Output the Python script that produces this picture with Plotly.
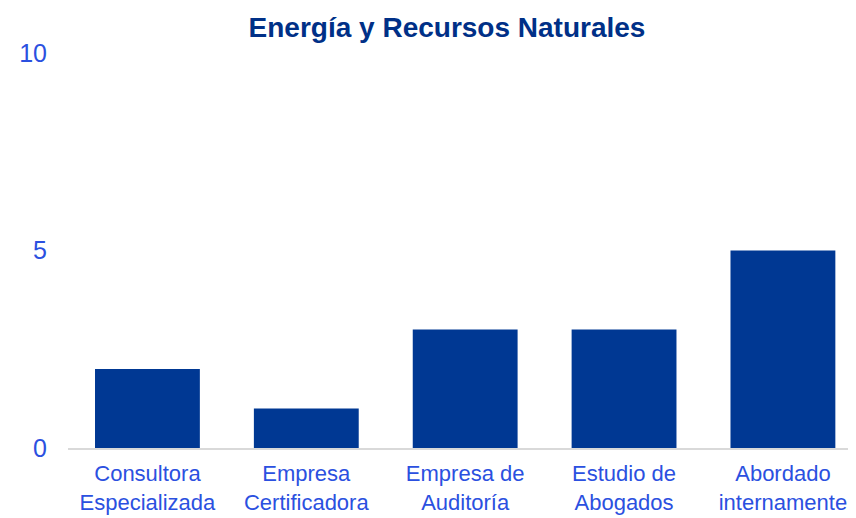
import plotly.graph_objects as go

categories = ["Consultora<br>Especializada", "Empresa<br>Certificadora", "Empresa de<br>Auditoría",
              "Estudio de<br>Abogados", "Abordado<br>internamente"]
values = [2, 1, 3, 3, 5]
y_ticks = [0, 5, 10]
title_text = "Energía y Recursos Naturales"

bar_color = "#003893"
tick_color = "#2B50E0"

fig = go.Figure(go.Bar(x=list(range(len(categories))), y=values, marker_color=bar_color,
                       marker_line_width=0, width=0.66))

# page body has an 8px default margin, so the figure is sized to fit inside it
fig.update_layout(
    width=848, height=510,
    margin=dict(l=60, r=0, t=45, b=70, autoexpand=False),
    paper_bgcolor="white", plot_bgcolor="white",
    font=dict(family="Liberation Sans, Arial, sans-serif", color=tick_color),
    title=dict(text="<b>" + title_text + "</b>", x=0.5177, xref="container", xanchor="center",
               y=0.962, yref="container", yanchor="middle",
               font=dict(size=28, color="#003087")),
    showlegend=False,
    bargap=0.34,
)
fig.update_xaxes(
    range=[-0.5, 4.46], tickmode="array", tickvals=list(range(len(categories))), ticktext=categories,
    showline=True, linecolor="#D9D9D9", linewidth=2, showgrid=False, ticks="",
    tickfont=dict(size=22, color=tick_color), zeroline=False, automargin=False,
    ticklabelstandoff=5,
)
fig.update_yaxes(
    range=[0, 10], tickvals=y_ticks, showgrid=False, zeroline=False, showline=False,
    tickfont=dict(size=25, color=tick_color), ticklabelstandoff=20, automargin=False,
)
fig.write_html("out.html")
